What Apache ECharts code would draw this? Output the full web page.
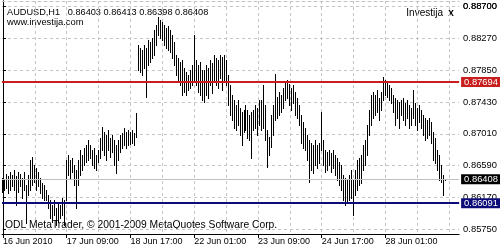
<!DOCTYPE html>
<html><head><meta charset="utf-8">
<script src="https://cdn.jsdelivr.net/npm/echarts@6/dist/echarts.min.js"></script>
<style>html,body{margin:0;padding:0;background:#fff}#c{width:500px;height:250px}</style>
</head><body><div id="c"></div>
<script>
const symbolTitle = 'AUDUSD,H1   0.86403 0.86413 0.86398 0.86408';
const timeLabels = ['16 Jun 2010','17 Jun 09:00','18 Jun 17:00','22 Jun 01:00','23 Jun 09:00','24 Jun 17:00','28 Jun 01:00'];
const timeLabelIdx = [0,32,64,96,128,160,192];
const gridIdx = [16,32,48,64,80,96,112,128,144,160,176,192,208,224];
const priceTicks = [0.8575,0.8617,0.8659,0.8701,0.8743,0.8785,0.8827,0.8870];
const topPriceTick = [0.8870];
const resistance = 0.87694;
const support = 0.86091;
const bid = 0.86408;

const highs = [
0.8642,0.8640,0.8648,0.8645,0.8650,0.8646,0.8653,0.8645,0.8650,0.8648,
0.8642,0.8650,0.8633,0.8646,0.8666,0.8670,0.8660,0.8656,0.8650,0.8642,
0.8636,0.8633,0.8627,0.8620,0.8613,0.8607,0.8613,0.8603,0.8609,0.8607,
0.8616,0.8613,0.8666,0.8673,0.8666,0.8669,0.8660,0.8653,0.8666,0.8679,
0.8673,0.8682,0.8686,0.8693,0.8686,0.8679,0.8682,0.8673,0.8679,0.8695,
0.8710,0.8703,0.8699,0.8706,0.8695,0.8699,0.8693,0.8686,0.8693,0.8699,
0.8702,0.8709,0.8703,0.8706,0.8703,0.8706,0.8702,0.8728,0.8818,0.8814,
0.8812,0.8818,0.8814,0.8825,0.8822,0.8828,0.8838,0.8845,0.8855,0.8851,
0.8849,0.8845,0.8841,0.8844,0.8838,0.8832,0.8822,0.8805,0.8801,0.8796,
0.8799,0.8788,0.8783,0.8779,0.8785,0.8792,0.8832,0.8799,0.8792,0.8796,
0.8785,0.8785,0.8792,0.8788,0.8799,0.8795,0.8805,0.8801,0.8799,0.8805,
0.8802,0.8805,0.8799,0.8779,0.8765,0.8752,0.8746,0.8739,0.8746,0.8735,
0.8730,0.8732,0.8739,0.8732,0.8726,0.8730,0.8732,0.8739,0.8735,0.8746,
0.8746,0.8765,0.8739,0.8706,0.8697,0.8726,0.8739,0.8780,0.8750,0.8756,
0.8752,0.8762,0.8769,0.8772,0.8767,0.8762,0.8765,0.8756,0.8748,0.8739,
0.8726,0.8716,0.8709,0.8699,0.8693,0.8689,0.8686,0.8693,0.8686,0.8689,
0.8730,0.8693,0.8679,0.8677,0.8679,0.8675,0.8679,0.8673,0.8669,0.8663,
0.8660,0.8646,0.8642,0.8640,0.8646,0.8653,0.8640,0.8653,0.8666,0.8669,
0.8673,0.8686,0.8693,0.8712,0.8732,0.8752,0.8756,0.8752,0.8759,0.8748,
0.8756,0.8776,0.8772,0.8769,0.8765,0.8762,0.8752,0.8748,0.8746,0.8743,
0.8746,0.8748,0.8742,0.8746,0.8739,0.8735,0.8759,0.8742,0.8735,0.8739,
0.8732,0.8726,0.8722,0.8719,0.8722,0.8716,0.8703,0.8695,0.8679,0.8673,
0.8660,0.8646,0.86413];

const lows = [
0.8624,0.8627,0.8629,0.8623,0.8627,0.8632,0.8627,0.8607,0.8624,0.8632,
0.8616,0.8627,0.8583,0.8620,0.8627,0.8633,0.8637,0.8627,0.8632,0.8623,
0.8616,0.8613,0.8613,0.8603,0.8589,0.8584,0.8593,0.8580,0.8584,0.8589,
0.8593,0.8580,0.8613,0.8646,0.8642,0.8650,0.8633,0.8603,0.8633,0.8646,
0.8653,0.8660,0.8663,0.8666,0.8669,0.8660,0.8656,0.8653,0.8663,0.8669,
0.8679,0.8673,0.8666,0.8679,0.8670,0.8677,0.8660,0.8649,0.8666,0.8677,
0.8682,0.8686,0.8682,0.8686,0.8687,0.8689,0.8686,0.8697,0.8785,0.8783,
0.8779,0.8788,0.8750,0.8792,0.8796,0.8801,0.8805,0.8818,0.8832,0.8828,
0.8825,0.8818,0.8814,0.8812,0.8809,0.8801,0.8792,0.8779,0.8769,0.8765,
0.8752,0.8756,0.8752,0.8759,0.8762,0.8765,0.8772,0.8765,0.8756,0.8752,
0.8746,0.8743,0.8752,0.8748,0.8765,0.8755,0.8772,0.8765,0.8762,0.8775,
0.8759,0.8772,0.8765,0.8739,0.8726,0.8719,0.8709,0.8706,0.8712,0.8699,
0.8686,0.8703,0.8706,0.8695,0.8693,0.8669,0.8706,0.8709,0.8699,0.8712,
0.8706,0.8709,0.8693,0.8657,0.8673,0.8683,0.8699,0.8719,0.8722,0.8726,
0.8730,0.8735,0.8746,0.8748,0.8739,0.8732,0.8742,0.8726,0.8722,0.8712,
0.8689,0.8682,0.8679,0.8666,0.8637,0.8653,0.8649,0.8660,0.8656,0.8662,
0.8679,0.8660,0.8650,0.8653,0.8660,0.8650,0.8656,0.8646,0.8640,0.8633,
0.8627,0.8613,0.8607,0.8609,0.8613,0.8616,0.8593,0.8620,0.8627,0.8633,
0.8636,0.8653,0.8660,0.8673,0.8699,0.8712,0.8722,0.8726,0.8730,0.8719,
0.8732,0.8746,0.8752,0.8750,0.8746,0.8742,0.8730,0.8712,0.8722,0.8709,
0.8726,0.8719,0.8712,0.8722,0.8709,0.8712,0.8722,0.8712,0.8706,0.8716,
0.8709,0.8699,0.8693,0.8695,0.8699,0.8689,0.8666,0.8662,0.8653,0.8640,
0.8637,0.8620,0.86398];

const FONT = '"Liberation Sans", Arial, sans-serif';
const bars = highs.map((h, i) => [i, h, lows[i]]);
const yMin = 0.85684, yMax = 0.88766;
const gridDash = { color: '#c4c4c4', type: [3, 3], width: 1 };
const priceLabel = {
  margin: 4, color: '#000', fontSize: 9.4, fontFamily: FONT,
  showMinLabel: true, showMaxLabel: true, hideOverlap: false,
  formatter: v => v.toFixed(5)
};

const chart = echarts.init(document.getElementById('c'), null, { renderer: 'canvas' });
chart.setOption({
  animation: false,
  backgroundColor: '#fff',
  grid: { left: 2, right: 39, top: 1, bottom: 16 },
  xAxis: [{
    type: 'value', min: -0.5, max: 229, position: 'bottom',
    axisLine: { show: true, lineStyle: { color: '#000', width: 1 } },
    axisTick: { show: true, customValues: timeLabelIdx, length: 4, lineStyle: { color: '#000' } },
    axisLabel: {
      customValues: timeLabelIdx, align: 'left', margin: 3,
      color: '#000', fontSize: 9, fontFamily: FONT,
      formatter: v => timeLabels[timeLabelIdx.indexOf(v)] || ''
    },
    splitLine: { show: false }
  }, {
    type: 'value', min: -0.5, max: 229, position: 'top',
    axisLine: { show: true, lineStyle: gridDash },
    axisTick: { show: false, customValues: gridIdx },
    axisLabel: { show: false },
    splitLine: { show: true, lineStyle: gridDash }
  }],
  yAxis: [{
    type: 'value', min: yMin, max: yMax, position: 'right',
    axisLine: { show: true, lineStyle: { color: '#000', width: 1 } },
    axisTick: { show: true, customValues: priceTicks, length: 3, lineStyle: { color: '#000' } },
    axisLabel: Object.assign({ customValues: priceTicks }, priceLabel),
    splitLine: { show: true, lineStyle: gridDash }
  }, {
    type: 'value', min: yMin, max: yMax, position: 'left',
    axisLine: { show: true, lineStyle: { color: '#000', width: 1 } },
    axisTick: { show: false }, axisLabel: { show: false }, splitLine: { show: false }
  }, {
    type: 'value', min: yMin, max: yMax, position: 'right', offset: 0,
    axisLine: { show: false },
    axisTick: { show: false, customValues: topPriceTick },
    axisLabel: Object.assign({ customValues: topPriceTick }, priceLabel),
    splitLine: { show: false }
  }],
  series: [{
    type: 'custom',
    xAxisIndex: 0, yAxisIndex: 0,
    data: bars,
    renderItem: (params, api) => {
      const t = api.coord([api.value(0), api.value(1)]);
      const b = api.coord([api.value(0), api.value(2)]);
      const x = Math.floor(t[0]) + 0.5;
      return { type: 'line', shape: { x1: x, y1: Math.round(t[1]), x2: x, y2: Math.round(b[1]) + 1 },
               style: { stroke: '#000', lineWidth: 1 } };
    },
    markLine: {
      silent: true, symbol: 'none', animation: false, precision: 5,
      label: { show: true, position: 'end', distance: 2, color: '#fff', fontSize: 9.4, fontFamily: FONT,
               padding: [1, 3, 0, 3], formatter: p => Number(p.value).toFixed(5) },
      data: [
        { yAxis: bid, lineStyle: { color: '#c0c0c0', width: 1, type: 'solid' }, label: { backgroundColor: '#000' } },
        { yAxis: resistance, lineStyle: { color: '#c81e1e', width: 2, type: 'solid' }, label: { backgroundColor: '#c81e1e' } },
        { yAxis: support, lineStyle: { color: '#0c0c78', width: 2, type: 'solid' }, label: { backgroundColor: '#0c0c78' } }
      ]
    }
  }],
  graphic: [
    { type: 'text', x: 7, y: 12, style: { text: symbolTitle, fill: '#000', fontSize: 9.2, fontFamily: FONT, verticalAlign: 'middle' } },
    { type: 'text', x: 7, y: 22, style: { text: 'www.investija.com', fill: '#000', fontSize: 9.4, fontFamily: FONT, verticalAlign: 'middle' } },
    { type: 'text', x: 443, y: 13, style: { text: 'Investija', fill: '#000', fontSize: 10, fontFamily: FONT, align: 'right', verticalAlign: 'middle' } },
    { type: 'text', x: 451, y: 13, style: { text: 'x', fill: '#000', fontSize: 10, fontWeight: 'bold', fontFamily: FONT, align: 'center', verticalAlign: 'middle' } },
    { type: 'text', x: 5, y: 225, style: { text: 'ODL MetaTrader, \u00a9 2001-2009 MetaQuotes Software Corp.', fill: '#000', fontSize: 10.3, fontFamily: FONT, verticalAlign: 'middle' } }
  ]
});
</script></body></html>
